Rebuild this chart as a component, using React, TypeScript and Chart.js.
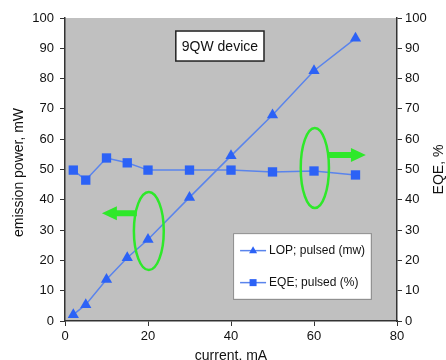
import React, { useEffect, useRef } from 'react';
import { Chart, registerables } from 'chart.js';

Chart.register(...registerables);

const currents = [2, 5, 10, 15, 20, 30, 40, 50, 60, 70];
const lopValues = [2.1, 5.4, 13.7, 20.9, 26.9, 40.8, 54.5, 68.0, 82.6, 93.3];
const eqeValues = [49.8, 46.5, 53.8, 52.2, 49.8, 49.8, 49.8, 49.2, 49.5, 48.2];
const lopLabel = 'LOP; pulsed (mw)';
const eqeLabel = 'EQE; pulsed (%)';
const xTitle = 'current, mA';
const yLeftTitle = 'emission power, mW';
const yRightTitle = 'EQE, %';
const boxText = '9QW device';

const FONT = '"Liberation Sans", Arial, Helvetica, sans-serif';
const LINE = '#5a84ec';
const MARK = '#2c62f6';
const GREEN = '#2ee82a';

function drawArrow(ctx: CanvasRenderingContext2D, x0: number, xh: number, xt: number, y: number) {
  ctx.beginPath();
  ctx.moveTo(x0, y - 3);
  ctx.lineTo(xh, y - 3);
  ctx.lineTo(xh, y - 7);
  ctx.lineTo(xt, y);
  ctx.lineTo(xh, y + 7);
  ctx.lineTo(xh, y + 3);
  ctx.lineTo(x0, y + 3);
  ctx.closePath();
  ctx.fill();
}

function drawVertical(ctx: CanvasRenderingContext2D, text: string, x: number, y: number) {
  ctx.save();
  ctx.translate(x, y);
  ctx.rotate(-Math.PI / 2);
  ctx.fillStyle = '#111';
  ctx.font = `14px ${FONT}`;
  ctx.textAlign = 'center';
  ctx.textBaseline = 'middle';
  ctx.fillText(text, 0, 0);
  ctx.restore();
}

const annotPlugin = {
  id: 'annot',
  beforeDraw(chart: any) {
    const { ctx, chartArea } = chart;
    ctx.save();
    ctx.fillStyle = '#c0c0c0';
    ctx.fillRect(chartArea.left, chartArea.top, chartArea.right - chartArea.left, chartArea.bottom - chartArea.top);
    ctx.restore();
  },
  afterDraw(chart: any) {
    const { ctx, chartArea } = chart;
    const mid = (chartArea.top + chartArea.bottom) / 2;
    drawVertical(ctx, yLeftTitle, 19, mid + 3);
    drawVertical(ctx, yRightTitle, 439, mid);
  },
  afterDatasetsDraw(chart: any) {
    const { ctx } = chart;
    const xs = chart.scales.x;
    const ys = chart.scales.y;
    const px = (v: number) => xs.getPixelForValue(v);
    const py = (v: number) => ys.getPixelForValue(v);
    ctx.save();
    // ellipses
    ctx.strokeStyle = GREEN;
    ctx.lineWidth = 2.5;
    ctx.beginPath();
    ctx.ellipse(px(20.2), py(29.7), px(20.2) - px(16.6), py(29.7) - py(42.6), 0, 0, Math.PI * 2);
    ctx.stroke();
    ctx.beginPath();
    ctx.ellipse(px(60.2), py(50.5), px(63.6) - px(60.2), py(50.5) - py(63.7), 0, 0, Math.PI * 2);
    ctx.stroke();
    // arrows
    ctx.fillStyle = GREEN;
    drawArrow(ctx, px(17.3), px(12.5), px(8.9), py(35.6));
    drawArrow(ctx, px(63.6), px(68.9), px(72.5), py(54.8));

    // title box
    const bx0 = px(26.7), bx1 = px(47.95), by0 = py(95.7), by1 = py(85.8);
    ctx.fillStyle = '#ffffff';
    ctx.fillRect(bx0, by0, bx1 - bx0, by1 - by0);
    ctx.strokeStyle = '#222';
    ctx.lineWidth = 1.5;
    ctx.strokeRect(bx0, by0, bx1 - bx0, by1 - by0);
    ctx.fillStyle = '#111';
    ctx.font = `14px ${FONT}`;
    ctx.textAlign = 'center';
    ctx.textBaseline = 'middle';
    ctx.fillText(boxText, (bx0 + bx1) / 2, (by0 + by1) / 2 + 1);

    // legend
    const lx0 = px(40.5), lx1 = px(73.7), ly0 = py(29.0), ly1 = py(7.3);
    ctx.fillStyle = '#ffffff';
    ctx.fillRect(lx0, ly0, lx1 - lx0, ly1 - ly0);
    ctx.strokeStyle = '#8a8a8a';
    ctx.lineWidth = 1;
    ctx.strokeRect(lx0 + 0.5, ly0 + 0.5, lx1 - lx0, ly1 - ly0);
    const rows = [
      { label: lopLabel, style: 'triangle', y: ly0 + 17.5 },
      { label: eqeLabel, style: 'rect', y: ly0 + 49.5 },
    ];
    ctx.font = `12px ${FONT}`;
    ctx.textAlign = 'left';
    ctx.textBaseline = 'middle';
    for (const r of rows) {
      ctx.strokeStyle = LINE;
      ctx.lineWidth = 1.5;
      ctx.beginPath();
      ctx.moveTo(lx0 + 7, r.y);
      ctx.lineTo(lx0 + 33, r.y);
      ctx.stroke();
      ctx.fillStyle = MARK;
      ctx.beginPath();
      const cx = lx0 + 20;
      if (r.style === 'triangle') {
        ctx.moveTo(cx, r.y - 4.5);
        ctx.lineTo(cx + 4, r.y + 2.5);
        ctx.lineTo(cx - 4, r.y + 2.5);
        ctx.closePath();
      } else {
        ctx.rect(cx - 3.5, r.y - 3.5, 7, 7);
      }
      ctx.fill();
      ctx.fillStyle = '#111';
      ctx.fillText(r.label, lx0 + 36, r.y);
    }
    ctx.restore();
  },
};

export default function App() {
  const ref = useRef<HTMLCanvasElement>(null);
  useEffect(() => {
    if (!ref.current) return;
    const tickFont = { family: FONT, size: 13 };
    const titleFont = { family: FONT, size: 14, lineHeight: 1.2 };
    const chart = new Chart(ref.current, {
      type: 'line',
      data: {
        datasets: [
          {
            label: lopLabel,
            data: currents.map((c, i) => ({ x: c, y: lopValues[i] })),
            borderColor: LINE,
            backgroundColor: MARK,
            borderWidth: 1.5,
            pointStyle: 'triangle',
            pointRadius: 6.5,
            pointBorderWidth: 0,
            pointBackgroundColor: MARK,
            yAxisID: 'y',
          },
          {
            label: eqeLabel,
            data: currents.map((c, i) => ({ x: c, y: eqeValues[i] })),
            borderColor: LINE,
            backgroundColor: MARK,
            borderWidth: 1.5,
            pointStyle: 'rect',
            pointRadius: 6.6,
            pointBorderWidth: 0,
            pointBackgroundColor: MARK,
            yAxisID: 'y1',
          },
        ],
      },
      options: {
        animation: false,
        responsive: false,
        maintainAspectRatio: false,
        layout: { padding: { top: 18, left: 0, right: 0, bottom: 0 } },
        plugins: { legend: { display: false }, tooltip: { enabled: false } },
        scales: {
          x: {
            type: 'linear',
            min: 0,
            max: 80,
            ticks: { stepSize: 20, font: tickFont, color: '#111', padding: 3 },
            grid: { display: true, drawOnChartArea: false, drawTicks: true, tickLength: 5, color: '#333' },
            border: { display: true, color: '#333', width: 1.5 },
            title: { display: true, text: xTitle, font: titleFont, color: '#111', padding: { top: 0, bottom: -5 } },
            afterFit: (s: any) => { s.height = 39; },
          },
          y: {
            type: 'linear',
            position: 'left',
            min: 0,
            max: 100,
            ticks: { stepSize: 10, font: tickFont, color: '#111', padding: 6 },
            grid: { display: true, drawOnChartArea: false, drawTicks: true, tickLength: 5, color: '#333' },
            border: { display: true, color: '#333', width: 1.5 },
            afterFit: (s: any) => { s.width = 65; },
          },
          y1: {
            type: 'linear',
            position: 'right',
            min: 0,
            max: 100,
            ticks: { stepSize: 10, font: tickFont, color: '#111', padding: 3 },
            grid: { display: true, drawOnChartArea: false, drawTicks: true, tickLength: 5, color: '#333' },
            border: { display: true, color: '#333', width: 1.5 },
            afterFit: (s: any) => { s.width = 49; },
          },
        },
      },
      plugins: [annotPlugin],
    } as any);
    return () => chart.destroy();
  }, []);
  return (
    <div style={{ position: 'absolute', left: 0, top: 0, width: 446, height: 360, background: '#fff' }}>
      <canvas ref={ref} width={446} height={360} style={{ width: 446, height: 360, display: 'block' }} />
    </div>
  );
}
